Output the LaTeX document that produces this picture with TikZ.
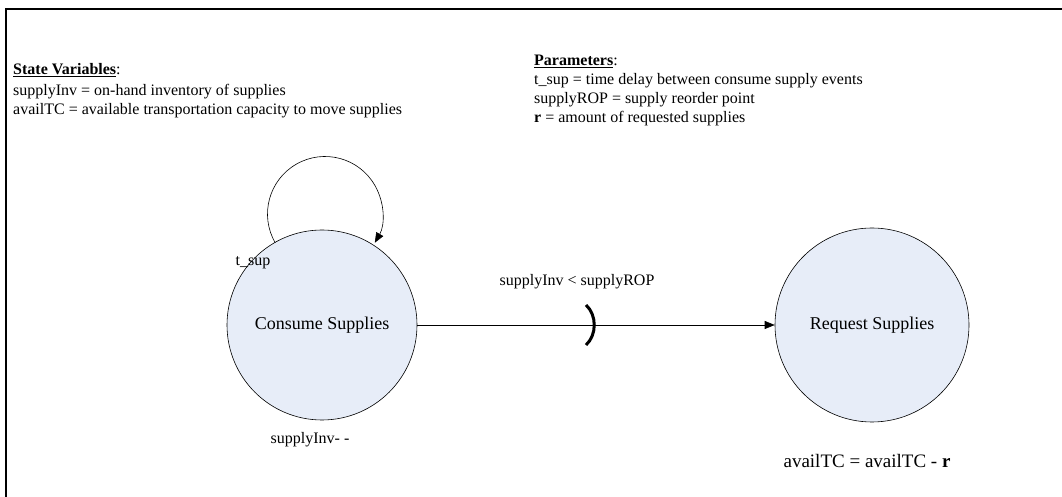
\documentclass[tikz,border=0pt]{standalone}
\usepackage{fontspec}
\setmainfont{Liberation Serif}
\usetikzlibrary{arrows.meta}
\definecolor{statefill}{RGB}{231,237,248}
\tikzset{
  every node/.style={font=\fontsize{16}{19}\selectfont, inner sep=0pt},
  eventnode/.style={circle, draw=black, line width=0.6pt, fill=statefill,
    font=\fontsize{18}{21}\selectfont},
  legend/.style={anchor=base west},
  edgelabel/.style={anchor=center},
  arrowtip/.style={-{Triangle[length=10pt,width=8pt]}, line width=0.6pt},
  frameline/.style={line width=2.5pt, line cap=rect}
}
\begin{document}
\begin{tikzpicture}[x=1pt,y=1pt]
  \useasboundingbox (0,0) rectangle (1062,497);

  % frame edges
  \draw[frameline] (6,488) -- (1062,488);
  \draw[frameline] (6,488) -- (6,0);

  % state variables
  \node[legend] (svhead) at (13,422) {\textbf{\underline{State Variables}}:};
  \node[legend] (sv1) at (13,401) {supplyInv = on-hand inventory of supplies};
  \node[legend] (sv2) at (13,382) {availTC = available transportation capacity to move supplies};

  % parameters
  \node[legend] (phead) at (534,431) {\textbf{\underline{Parameters}}:};
  \node[legend] (p1) at (534,412) {t\_sup = time delay between consume supply events};
  \node[legend] (p2) at (534,393) {supplyROP = supply reorder point};
  \node[legend] (p3) at (534,374) {\textbf{r} = amount of requested supplies};

  % events
  \node[eventnode, minimum size=190pt] (cs) at (322,172) {Consume Supplies};
  \node[eventnode, minimum size=194pt] (rs) at (872,172) {Request Supplies};

  % self-scheduling edge: a circular loop over the event
  \coordinate (loopc) at (325,283);
  \draw[arrowtip] (loopc) ++(210:57.5pt) arc[start angle=210, end angle=-30, radius=57.5pt];
  \node[edgelabel] (tsup) at (253,234) {t\_sup};

  % scheduling edge with condition
  \draw[arrowtip] (cs.east) -- (rs.west);
  \node[edgelabel] (cond) at (577,215) {supplyInv < supplyROP};
  \coordinate (ptop) at (586,192);
  \coordinate (pbot) at (586,152);
  \draw[line width=3pt] (ptop) .. controls (597,182) and (597,162) .. (pbot);

  % state changes
  \node[edgelabel] (csch) at (310,57) {supplyInv- -};
  \node[edgelabel, font=\fontsize{19}{22}\selectfont] (rsch) at (867,36)
    {availTC = availTC - \textbf{r}};
\end{tikzpicture}
\end{document}
